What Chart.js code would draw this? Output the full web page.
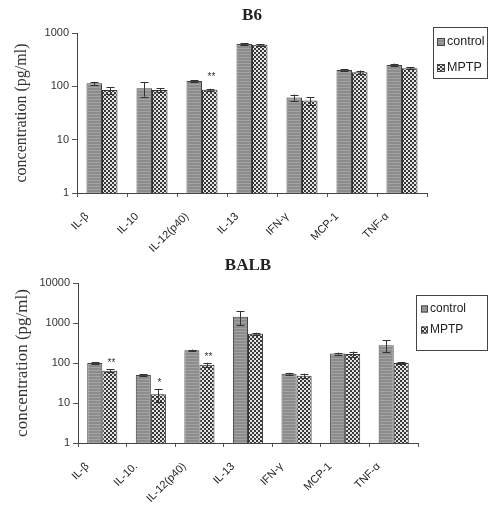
<!DOCTYPE html>
<html>
<head>
<meta charset="utf-8">
<script src="https://cdn.jsdelivr.net/npm/chart.js@4.4.1/dist/chart.umd.min.js"></script>
<style>
  html, body { margin: 0; padding: 0; background: #fff; }
  #wrap { position: relative; width: 488px; height: 509px; }
  #wrap canvas { position: absolute; left: 0; }
  #b6Chart { top: 0; }
  #balbChart { top: 250px; }
</style>
</head>
<body>
<div id="wrap">
  <canvas id="b6Chart" width="488" height="262"></canvas>
  <canvas id="balbChart" width="488" height="259"></canvas>
</div>
<script>
const b6_labels = ['IL-β', 'IL-10', 'IL-12(p40)', 'IL-13', 'IFN-γ', 'MCP-1', 'TNF-α'];
const balb_labels = ['IL-β', 'IL-10.', 'IL-12(p40)', 'IL-13', 'IFN-γ', 'MCP-1', 'TNF-α'];

// B6 (pg/ml), mean and error
const b6_control = [114, 92, 126, 620, 62, 203, 252];
const b6_control_err = [8, 28, 5, 20, 8, 8, 15];
const b6_mptp = [85, 85, 86, 600, 54, 183, 218];
const b6_mptp_err = [12, 8, 4, 20, 9, 15, 10];
const b6_marks = ['', '', '**', '', '', '', ''];
const b6_ticks = [1, 10, 100, 1000];

// BALB (pg/ml), mean and error
const balb_control = [100, 50, 208, 1440, 54, 172, 279];
const balb_control_err = [3, 2, 8, 560, 3, 10, 90];
const balb_mptp = [64, 16.5, 91, 540, 48, 168, 100];
const balb_mptp_err = [5, 6, 10, 30, 6, 25, 6];
const balb_marks = ['**', '*', '**', '', '', '', ''];
const balb_ticks = [1, 10, 100, 1000, 10000];

function make_pattern(kind) {
    const c = document.createElement('canvas');
    const g = c.getContext('2d');
    if (kind === 'control') {
        c.width = 4; c.height = 3;
        g.fillStyle = '#8c8c8c'; g.fillRect(0, 0, 4, 3);
        g.fillStyle = '#a4a4a4'; g.fillRect(0, 0, 4, 1);
    } else {
        c.width = 4; c.height = 4;
        g.fillStyle = '#383838'; g.fillRect(0, 0, 4, 4);
        g.fillStyle = '#e4e4e4'; g.fillRect(0, 0, 2, 2); g.fillRect(2, 2, 2, 2);
    }
    return g.createPattern(c, 'repeat');
}

const errorBars = {
    id: 'errorBars',
    afterDatasetsDraw(chart, args, o) {
        const ctx = chart.ctx;
        const y = chart.scales.y;
        ctx.save();
        ctx.strokeStyle = '#333';
        ctx.fillStyle = '#333';
        ctx.lineWidth = 1;
        ctx.font = '10px "Liberation Sans", Arial, sans-serif';
        ctx.textAlign = 'center';
        ctx.textBaseline = 'middle';
        chart.data.datasets.forEach((ds, i) => {
            const meta = chart.getDatasetMeta(i);
            meta.data.forEach((bar, j) => {
                const v = ds.data[j], e = ds.errors[j];
                const top = y.getPixelForValue(v + e);
                const bot = y.getPixelForValue(Math.max(v - e, 1));
                const x = Math.round(bar.x) + 0.5;
                ctx.beginPath();
                ctx.moveTo(x, bot); ctx.lineTo(x, top);
                ctx.moveTo(x - 4, Math.round(top) + 0.5); ctx.lineTo(x + 4, Math.round(top) + 0.5);
                ctx.moveTo(x - 4, Math.round(bot) + 0.5); ctx.lineTo(x + 4, Math.round(bot) + 0.5);
                ctx.stroke();
                if (ds.marks && ds.marks[j]) {
                    ctx.fillText(ds.marks[j], x + 1, top - o.markGap);
                }
            });
        });
        ctx.restore();
    }
};

const boxLegend = {
    id: 'boxLegend',
    afterDraw(chart, args, o) {
        const ctx = chart.ctx;
        ctx.save();
        ctx.strokeStyle = '#444';
        ctx.lineWidth = 1;
        ctx.strokeRect(o.x + 0.5, o.y + 0.5, o.w, o.h);
        ctx.font = o.font;
        ctx.textBaseline = 'middle';
        chart.data.datasets.forEach((ds, i) => {
            const cy = o.y + o.first + i * o.step;
            ctx.fillStyle = ds.backgroundColor;
            ctx.fillRect(o.x + o.swx, cy - o.sw / 2, o.sw, o.sw);
            ctx.strokeRect(o.x + o.swx + 0.5, cy - o.sw / 2 + 0.5, o.sw - 1, o.sw - 1);
            ctx.fillStyle = '#222';
            ctx.fillText(ds.label, o.x + o.tx, cy);
        });
        ctx.restore();
    }
};

function make_chart(id, title, labels, control, control_err, mptp, mptp_err, marks, ticks, lay) {
    const canv = document.getElementById(id);
    return new Chart(canv.getContext('2d'), {
        type: 'bar',
        data: {
            labels: labels,
            datasets: [{
                label: 'control',
                data: control,
                errors: control_err,
                backgroundColor: make_pattern('control'),
                borderColor: '#444',
                borderWidth: 1
            }, {
                label: 'MPTP',
                data: mptp,
                errors: mptp_err,
                marks: marks,
                backgroundColor: make_pattern('mptp'),
                borderColor: '#333',
                borderWidth: 1
            }]
        },
        options: {
            responsive: false,
            animation: false,
            layout: { padding: { left: 0, right: lay.right, top: 0, bottom: 0 } },
            datasets: { bar: { categoryPercentage: 0.62, barPercentage: 1 } },
            plugins: {
                legend: { display: false },
                tooltip: { enabled: false },
                title: {
                    display: true,
                    text: title,
                    fullSize: false,
                    color: '#222',
                    font: { family: '"Liberation Serif", "Times New Roman", serif', size: 17, weight: 'bold' },
                    padding: { top: 5, bottom: 7.6 }
                },
                errorBars: { markGap: lay.markGap },
                boxLegend: lay.legend
            },
            scales: {
                x: {
                    grid: { display: true, drawOnChartArea: false, tickLength: 4, color: '#555' },
                    border: { display: true, color: '#444', width: 1 },
                    ticks: {
                        color: '#222',
                        minRotation: 45, maxRotation: 45,
                        padding: 13,
                        labelOffset: -15,
                        font: { family: '"Liberation Sans", Arial, sans-serif', size: 11 }
                    },
                    afterFit: (scale) => { scale.height = lay.xHeight; }
                },
                y: {
                    type: 'logarithmic',
                    min: ticks[0],
                    max: ticks[ticks.length - 1],
                    grid: { display: true, drawOnChartArea: false, tickLength: 5, color: '#555' },
                    border: { display: true, color: '#444', width: 1 },
                    afterBuildTicks: (scale) => { scale.ticks = ticks.map(v => ({ value: v })); },
                    ticks: {
                        color: '#333',
                        padding: 3,
                        font: { family: '"Liberation Sans", Arial, sans-serif', size: 11 },
                        callback: (v) => String(v)
                    },
                    title: {
                        display: true,
                        text: 'concentration (pg/ml)',
                        color: '#333',
                        padding: { top: 12, bottom: 0 },
                        font: { family: '"Liberation Serif", "Times New Roman", serif', size: lay.yTitleSize }
                    },
                    afterFit: (scale) => { scale.width = lay.yWidth; }
                }
            }
        },
        plugins: [errorBars, boxLegend]
    });
}

make_chart('b6Chart', 'B6', b6_labels, b6_control, b6_control_err, b6_mptp, b6_mptp_err, b6_marks, b6_ticks, {
    right: 61, yWidth: 77, xHeight: 69, yTitleSize: 16, markGap: 12,
    legend: { x: 433, y: 27, w: 54, h: 51, first: 15, step: 26, swx: 4, sw: 8, tx: 14,
              font: '12.5px "Liberation Sans", Arial, sans-serif' }
});

make_chart('balbChart', 'BALB', balb_labels, balb_control, balb_control_err, balb_mptp, balb_mptp_err, balb_marks, balb_ticks, {
    right: 70, yWidth: 78, xHeight: 66, yTitleSize: 17, markGap: 6,
    legend: { x: 416, y: 45, w: 71, h: 55, first: 14, step: 21, swx: 5, sw: 7, tx: 14,
              font: '12px "Liberation Sans", Arial, sans-serif' }
});
</script>
</body>
</html>
